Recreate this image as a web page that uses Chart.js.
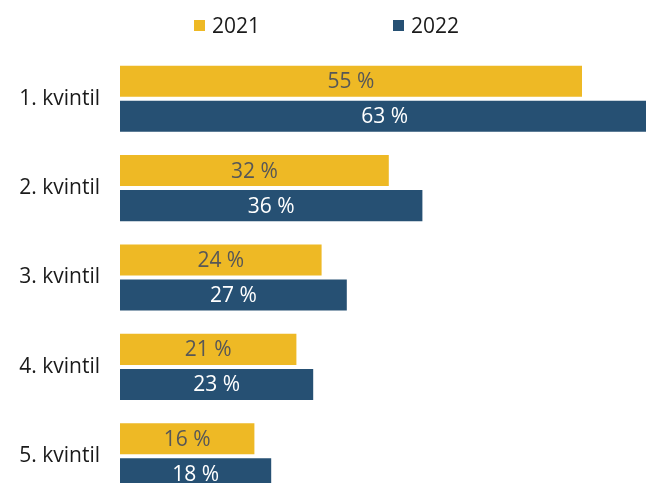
<!DOCTYPE html>
<html>
<head>
<meta charset="utf-8">
<script src="https://cdn.jsdelivr.net/npm/chart.js@4.4.1/dist/chart.umd.min.js"></script>
<style>
  html, body { margin: 0; padding: 0; background: #fff; overflow: hidden; }
  #wrap { position: relative; width: 666px; height: 501px; }
  #legend {
    position: absolute; top: 11px; left: 194px; z-index: 1;
    display: flex; gap: 133px;
    font-family: 'Open Sans', sans-serif; font-size: 21px; color: #1a1a1a;
  }
  #legend .item { display: flex; align-items: center; }
  #legend .box { width: 11px; height: 11px; margin-right: 7px; }
</style>
</head>
<body>
<div id="wrap">
  <div id="legend"></div>
  <canvas id="chart"></canvas>
</div>
<script>
const categories = ['1. kvintil', '2. kvintil', '3. kvintil', '4. kvintil', '5. kvintil'];
const seriesNames = ['2021', '2022'];
const values2021 = [55, 32, 24, 21, 16];
const values2022 = [63, 36, 27, 23, 18];

const colors = ['#EEB925', '#265073'];
const labelColors = ['#575757', '#ffffff'];

// values written inside the bars
const barLabels = {
  id: 'barLabels',
  afterDatasetsDraw(chart) {
    const ctx = chart.ctx;
    ctx.save();
    ctx.font = '21px "Open Sans", sans-serif';
    ctx.textAlign = 'center';
    ctx.textBaseline = 'middle';
    chart.data.datasets.forEach((ds, i) => {
      ctx.fillStyle = labelColors[i];
      chart.getDatasetMeta(i).data.forEach((bar, j) => {
        ctx.fillText(ds.data[j] + ' %', (bar.x + bar.base) / 2, bar.y + 1);
      });
    });
    ctx.restore();
  }
};

Chart.defaults.font.family = "'Open Sans', sans-serif";

const chart = new Chart(document.getElementById('chart').getContext('2d'), {
  type: 'bar',
  data: {
    labels: categories,
    datasets: [
      { label: seriesNames[0], data: values2021, backgroundColor: colors[0] },
      { label: seriesNames[1], data: values2022, backgroundColor: colors[1] },
    ],
  },
  options: {
    indexAxis: 'y',
    responsive: true,
    maintainAspectRatio: false,
    animation: false,
    categoryPercentage: 0.785,
    barPercentage: 0.885,
    layout: { padding: { top: 54, bottom: 0, left: 0, right: 0 } },
    plugins: {
      legend: { display: false },
      tooltip: { enabled: false },
    },
    scales: {
      x: { display: false, min: 0, max: 65 },
      y: {
        grid: { display: false, drawTicks: false },
        border: { display: false },
        ticks: { color: '#1a1a1a', font: { size: 21 }, padding: 20 },
        afterFit(scale) {
          scale.width = 120;
          scale.paddingTop = 0;
          scale.paddingBottom = 0;
        },
      },
    },
  },
  plugins: [barLabels],
});

// legend built from the chart's datasets
const legend = document.getElementById('legend');
chart.data.datasets.forEach((ds) => {
  const item = document.createElement('div');
  item.className = 'item';
  const box = document.createElement('span');
  box.className = 'box';
  box.style.background = ds.backgroundColor;
  const text = document.createElement('span');
  text.textContent = ds.label;
  item.appendChild(box);
  item.appendChild(text);
  legend.appendChild(item);
});
</script>
</body>
</html>
